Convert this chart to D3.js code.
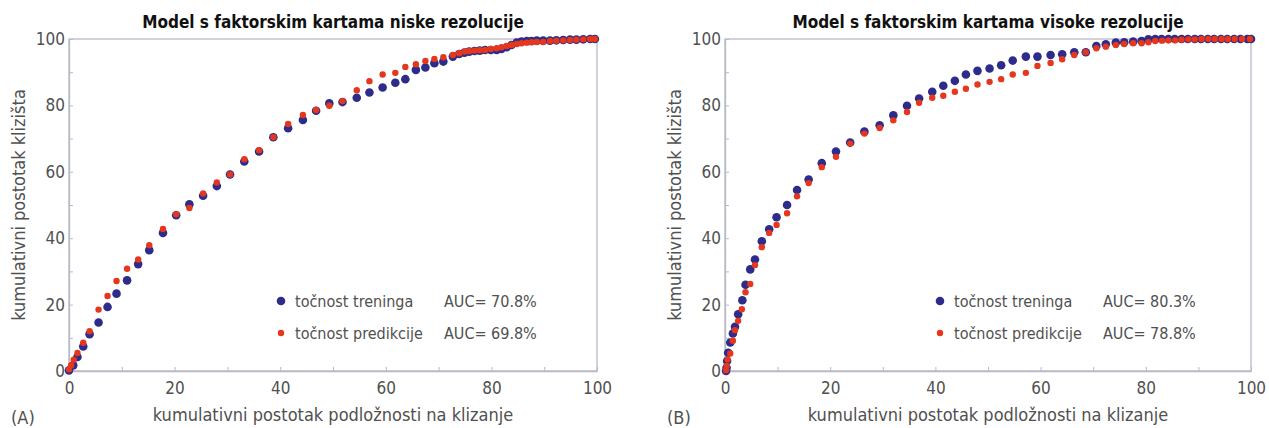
<!DOCTYPE html>
<html>
<head>
<meta charset="utf-8">
<script src="https://cdn.jsdelivr.net/npm/d3@7.9.0/dist/d3.min.js"></script>
<style>
  body { margin: 0; background: #fff; }
  svg text { font-family: "Liberation Sans Narrow", "DejaVu Sans Condensed", "Roboto", sans-serif; }
</style>
</head>
<body>
<svg id="chart" width="1269" height="428"></svg>
<script>
// ========== Data ==========
const titles = ['Model s faktorskim kartama niske rezolucije', 'Model s faktorskim kartama visoke rezolucije'];
const panelTags = ['(A)', '(B)'];
const xLabel = 'kumulativni postotak podložnosti na klizanje';
const yLabel = 'kumulativni postotak klizišta';
const seriesNames = ['točnost treninga', 'točnost predikcije'];
const aucA = ['AUC= 70.8%', 'AUC= 69.8%'];
const aucB = ['AUC= 80.3%', 'AUC= 78.8%'];
const tickValues = [0, 10, 20, 30, 40, 50, 60, 70, 80, 90, 100];

// panel A, blue = training, red = prediction  [x, y]
const trainingA = [
  [0, 0.2], [0.8, 1.7], [1.6, 4.2], [2.7, 7.4], [3.9, 11.1], [5.6, 14.6], [7.3, 19.3], [9.0, 23.3],
  [11.0, 27.3], [13.1, 32.2], [15.2, 36.4], [17.8, 41.6], [20.3, 46.9], [22.8, 50.2], [25.4, 52.8],
  [28.0, 55.7], [30.5, 59.2], [33.2, 63.1], [36.0, 66.1], [38.7, 70.4], [41.5, 73.1], [44.3, 75.6],
  [46.8, 78.4], [49.3, 80.6], [51.8, 81.0], [54.5, 82.3], [56.9, 83.9], [59.4, 85.4], [61.8, 86.8],
  [63.7, 87.9], [65.7, 90.7], [67.5, 91.4], [69.2, 92.7], [70.9, 93.2], [72.7, 94.7], [73.9, 95.5],
  [74.9, 95.9], [75.8, 96.2], [76.8, 96.4], [77.8, 96.5], [78.8, 96.7], [79.9, 96.7], [81.0, 96.7],
  [81.9, 97.0], [82.9, 97.5], [83.8, 98.2], [84.8, 98.9], [85.7, 99.2], [86.7, 99.4], [87.6, 99.4],
  [88.6, 99.5], [89.8, 99.5], [91.1, 99.5], [92.3, 99.6], [93.6, 99.7], [94.9, 99.8], [96.1, 99.8],
  [97.4, 99.9], [98.7, 100], [99.6, 100]
];
const predictionA = [
  [0, 0.5], [0.4, 1.7], [0.9, 3.4], [1.6, 5.4], [2.7, 8.5], [3.9, 12.0], [5.6, 18.5], [7.3, 22.6],
  [9.0, 27.1], [11.0, 30.8], [13.1, 33.6], [15.2, 37.9], [17.8, 42.8], [20.3, 47.2], [22.8, 49.1],
  [25.4, 53.5], [28.0, 56.8], [30.5, 59.2], [33.2, 63.8], [36.0, 66.5], [38.7, 70.4], [41.5, 74.4],
  [44.3, 77.1], [46.8, 78.6], [49.3, 79.9], [51.8, 81.3], [54.5, 84.6], [56.9, 87.3], [59.4, 89.3],
  [61.8, 89.8], [63.7, 91.6], [65.7, 92.4], [67.5, 93.4], [69.2, 94.0], [70.9, 94.5], [72.7, 95.2],
  [73.9, 95.7], [74.9, 96.2], [75.8, 96.4], [76.8, 96.5], [77.8, 96.6], [78.8, 96.7], [79.9, 97.0],
  [81.0, 97.2], [81.9, 97.5], [82.9, 97.9], [83.8, 98.2], [84.8, 98.5], [85.7, 98.7], [86.7, 98.9],
  [87.6, 99.0], [88.6, 99.1], [89.8, 99.1], [91.1, 99.4], [92.3, 99.5], [93.6, 99.6], [94.9, 99.7],
  [96.1, 99.8], [97.4, 99.9], [98.7, 100], [99.6, 100]
];

// panel B
const trainingB = [
  [0.2, 0], [0.3, 1.0], [0.4, 3.0], [0.6, 5.5], [1.0, 8.6], [1.5, 11.3], [1.9, 13.3], [2.5, 17.1],
  [3.3, 21.3], [3.9, 26.0], [4.8, 30.6], [5.7, 33.6], [7.0, 39.1], [8.4, 42.7], [9.8, 46.3],
  [11.8, 50.0], [13.7, 54.5], [15.9, 57.7], [18.4, 62.6], [21.1, 66.1], [23.8, 68.8], [26.5, 72.1],
  [29.4, 74.0], [32.0, 77.0], [34.6, 79.9], [36.9, 82.1], [39.4, 84.1], [41.5, 85.9], [43.7, 87.4],
  [45.8, 89.3], [48.0, 90.4], [50.3, 91.1], [52.5, 92.1], [54.7, 93.5], [57.2, 94.7], [59.4, 94.7],
  [61.9, 95.2], [64.1, 95.4], [66.4, 96.0], [68.6, 96.0], [70.6, 97.9], [72.4, 98.4], [74.3, 98.9],
  [75.9, 99.0], [77.6, 99.2], [79.2, 99.4], [80.5, 99.9], [81.8, 100], [83.0, 100], [84.3, 100],
  [85.5, 100], [86.8, 100], [88.0, 100], [89.3, 100], [90.5, 100], [91.8, 100], [93.0, 100],
  [94.3, 100], [95.5, 100], [96.8, 100], [98.0, 100], [99.3, 100], [100, 100]
];
const predictionB = [
  [0.2, 0.2], [0.3, 1.5], [0.5, 3.5], [1.0, 5.3], [1.5, 9.1], [1.9, 12.3], [2.5, 15.1], [3.2, 18.6],
  [3.9, 23.7], [4.8, 26.2], [5.7, 31.9], [7.0, 37.3], [8.4, 41.6], [9.8, 44.0], [11.8, 47.5],
  [13.7, 52.6], [15.9, 56.6], [18.4, 61.4], [21.1, 64.5], [23.8, 68.5], [26.5, 71.5], [29.4, 73.2],
  [32.0, 75.5], [34.6, 78.0], [36.9, 80.8], [39.4, 82.3], [41.5, 82.9], [43.7, 84.1], [45.8, 85.0],
  [48.0, 86.3], [50.3, 87.1], [52.5, 87.9], [54.7, 89.3], [57.2, 89.8], [59.4, 91.9], [61.9, 92.8],
  [64.1, 93.9], [66.4, 95.2], [68.6, 96.0], [70.6, 97.2], [72.4, 97.7], [74.3, 98.2], [75.9, 98.5],
  [77.6, 98.7], [79.2, 98.7], [80.5, 99.0], [81.8, 99.4], [83.1, 99.5], [84.3, 99.6], [85.6, 99.6],
  [86.8, 99.8], [88.1, 99.9], [89.3, 99.9], [90.6, 100], [91.9, 100], [93.1, 100], [94.4, 100],
  [95.6, 100], [96.9, 100], [98.3, 100], [99.8, 100]
];

// ========== Setup ==========
const BLUE = '#2e2c8a';
const RED = '#e5371d';
const FRAME = '#b9b9c6';
const TEXT = '#505050';

const svg = d3.select('#chart');

const panels = [
  { left: 69, right: 597, training: trainingA, prediction: predictionA, auc: aucA, legendX: 281 },
  { left: 725, right: 1251, training: trainingB, prediction: predictionB, auc: aucB, legendX: 940 }
];

panels.forEach((p, i) => {
  const x = d3.scaleLinear().domain([0, 100]).range([p.left, p.right]);
  const y = d3.scaleLinear().domain([0, 100]).range([371, 39]);
  const g = svg.append('g');

  // === frame ===
  g.append('rect')
    .attr('x', x(0)).attr('y', y(100))
    .attr('width', x(100) - x(0)).attr('height', y(0) - y(100))
    .attr('fill', 'none').attr('stroke', FRAME).attr('stroke-width', 1.3);

  // === axes ===
  const fmt = (d) => (d % 20 === 0 ? d : '');
  const xAxis = g.append('g')
    .attr('transform', `translate(0,${y(0)})`)
    .call(d3.axisBottom(x).tickValues(tickValues).tickFormat(fmt).tickSizeInner(-4).tickSizeOuter(0).tickPadding(11));
  const yAxis = g.append('g')
    .attr('transform', `translate(${x(0)},0)`)
    .call(d3.axisLeft(y).tickValues(tickValues).tickFormat(fmt).tickSizeInner(-4).tickSizeOuter(0).tickPadding(4));
  [xAxis, yAxis].forEach((a) => {
    a.select('.domain').attr('stroke', FRAME).attr('stroke-width', 1.3);
    a.selectAll('.tick line').attr('stroke', FRAME);
    a.selectAll('.tick text').attr('fill', TEXT).style('font-size', '17px');
  });

  // === title & labels ===
  const cx = (x(0) + x(100)) / 2;
  g.append('text').attr('x', cx).attr('y', 28).attr('text-anchor', 'middle')
    .style('font-size', '17px').style('font-weight', 'bold').attr('fill', '#111')
    .text(titles[i]);
  g.append('text').attr('x', cx).attr('y', 421).attr('text-anchor', 'middle')
    .style('font-size', '18px').attr('fill', TEXT).text(xLabel);
  g.append('text').attr('x', x(0) - 58).attr('y', 424)
    .style('font-size', '18px').attr('fill', TEXT).text(panelTags[i]);
  g.append('text')
    .attr('transform', `translate(${x(0) - 44},${(y(0) + y(100)) / 2}) rotate(-90)`)
    .attr('text-anchor', 'middle').style('font-size', '18px').attr('fill', TEXT).text(yLabel);

  // === points ===
  g.append('g').selectAll('circle').data(p.training).join('circle')
    .attr('cx', (d) => x(d[0])).attr('cy', (d) => y(d[1])).attr('r', 4.3).attr('fill', BLUE);
  g.append('g').selectAll('circle').data(p.prediction).join('circle')
    .attr('cx', (d) => x(d[0])).attr('cy', (d) => y(d[1])).attr('r', 3.2).attr('fill', RED);

  // === legend ===
  const legend = g.append('g');
  [BLUE, RED].forEach((c, k) => {
    const ly = 301 + k * 32;
    legend.append('circle').attr('cx', p.legendX).attr('cy', ly).attr('r', k === 0 ? 4.3 : 3.2).attr('fill', c);
    legend.append('text').attr('x', p.legendX + 14).attr('y', ly + 6)
      .style('font-size', '16px').attr('fill', TEXT).text(seriesNames[k]);
    legend.append('text').attr('x', p.legendX + 163).attr('y', ly + 6)
      .style('font-size', '16px').attr('fill', TEXT).text(p.auc[k]);
  });
});
</script>
</body>
</html>
